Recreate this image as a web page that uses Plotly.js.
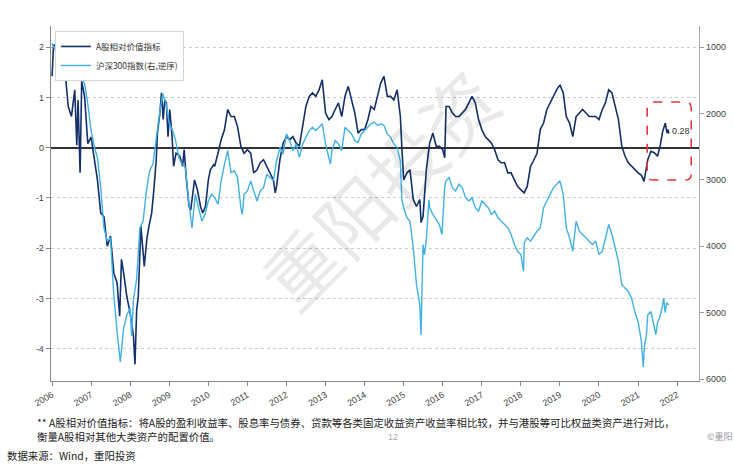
<!DOCTYPE html>
<html>
<head>
<meta charset="utf-8">
<script src="https://cdn.plot.ly/plotly-3.0.1.min.js"></script>
<style>
html,body{margin:0;padding:0;background:#fff;}
#chart{width:734px;height:465px;}
</style>
</head>
<body>
<div id="chart"></div>
<script>
// ---- Data: A股相对价值指标 (left axis) ----
const navyDates = [
'2006-01-01','2006-01-15','2006-02-01','2006-03-01','2006-03-15','2006-04-01','2006-05-01','2006-06-01','2006-07-01','2006-08-01','2006-08-20','2006-09-01','2006-09-20','2006-10-05','2006-11-01','2006-12-01',
'2007-01-01','2007-02-01','2007-03-01','2007-04-01','2007-05-01','2007-06-01','2007-07-01','2007-08-01','2007-09-01','2007-09-25','2007-10-12','2007-11-01','2007-12-01',
'2008-01-01','2008-02-01','2008-02-15','2008-03-02','2008-03-17','2008-04-10','2008-05-12','2008-06-05','2008-06-25','2008-07-20','2008-08-10','2008-09-01','2008-09-12','2008-10-05','2008-10-20','2008-11-05','2008-11-20','2008-12-05','2008-12-20',
'2009-01-05','2009-01-27','2009-02-10','2009-03-05','2009-04-10','2009-05-05','2009-05-20','2009-06-10','2009-07-05','2009-07-20','2009-08-10','2009-08-25','2009-09-20','2009-10-20','2009-11-10','2009-12-05',
'2010-01-01','2010-01-20','2010-02-20','2010-03-01','2010-04-01','2010-05-01','2010-06-01','2010-07-01','2010-08-01','2010-09-01','2010-10-01','2010-11-01','2010-12-01',
'2011-01-01','2011-02-01','2011-03-01','2011-04-01','2011-05-01','2011-06-01','2011-07-01','2011-08-01','2011-09-01','2011-09-18','2011-10-01','2011-11-01','2011-12-01',
'2012-01-01','2012-02-01','2012-03-01','2012-04-01','2012-05-01','2012-06-01','2012-07-01','2012-08-01','2012-09-01','2012-10-01','2012-11-01','2012-12-01',
'2013-01-01','2013-02-01','2013-03-01','2013-04-01','2013-05-01','2013-06-01','2013-07-01','2013-08-01','2013-09-01','2013-10-01','2013-11-01','2013-12-01',
'2014-01-01','2014-02-01','2014-03-01','2014-04-01','2014-05-01','2014-06-01','2014-07-01','2014-08-01','2014-09-01','2014-10-01','2014-11-01','2014-12-01','2014-12-15',
'2015-01-01','2015-02-01','2015-03-01','2015-04-01','2015-05-01','2015-06-01','2015-06-13','2015-07-01','2015-08-01','2015-09-01','2015-10-01','2015-11-01','2015-12-01',
'2016-01-01','2016-01-20','2016-02-01','2016-03-01','2016-04-01','2016-05-01','2016-06-01','2016-07-01','2016-08-01','2016-09-01','2016-10-01','2016-11-01','2016-12-01',
'2017-01-01','2017-02-01','2017-03-01','2017-04-01','2017-05-01','2017-06-01','2017-07-01','2017-08-01','2017-09-01','2017-10-01','2017-11-01','2017-12-01',
'2018-01-01','2018-02-01','2018-03-01','2018-04-01','2018-05-01','2018-06-01','2018-07-01','2018-08-01','2018-09-01','2018-10-01','2018-11-01','2018-12-01',
'2019-01-01','2019-02-01','2019-03-01','2019-04-01','2019-05-01','2019-06-01','2019-07-01','2019-08-01','2019-09-01','2019-10-01','2019-11-01','2019-12-01',
'2020-01-01','2020-02-01','2020-03-01','2020-04-01','2020-05-01','2020-06-01','2020-07-01','2020-08-01','2020-09-01','2020-10-01','2020-11-01','2020-12-01',
'2021-01-01','2021-02-01','2021-02-25','2021-04-01','2021-05-01','2021-06-01','2021-07-01','2021-07-28','2021-08-18','2021-09-12','2021-09-28','2021-10-08','2021-10-15'
];
const navyVals = [
1.42,2.05,2.02,1.75,1.48,1.68,1.55,0.82,0.62,1.15,0.05,0.95,-0.50,1.32,1.02,0.08,
0.21,-0.24,-0.64,-1.30,-1.37,-1.96,-1.76,-2.49,-2.69,-3.35,-2.22,-2.49,-2.96,
-3.29,-3.75,-4.31,-3.22,-2.96,-1.56,-2.36,-1.82,-1.56,-1.30,-0.83,-0.24,0.29,0.69,1.09,0.56,0.95,0.89,0.22,
0.76,0.22,-0.37,-0.11,-0.17,-0.37,-0.04,-0.64,-1.17,-1.24,-0.83,-0.64,-0.83,-1.17,-1.30,-1.17,
-0.64,-0.44,-0.34,-0.37,-0.11,0.16,0.36,0.76,0.62,0.62,0.42,0.03,-0.11,
-0.04,-0.11,-0.50,-0.44,-0.30,-0.24,-0.37,-0.50,-0.64,-0.90,-0.77,-0.24,0.09,
0.22,0.16,0.22,0.09,0.03,0.42,0.82,1.02,1.09,1.02,1.15,1.35,
0.69,0.56,0.62,0.76,0.89,0.62,1.02,1.22,0.95,0.69,0.29,0.36,
0.36,0.56,0.82,0.76,1.02,1.29,1.42,1.02,1.02,0.95,1.15,0.62,0.00,
-0.64,-0.50,-0.44,-1.03,-1.17,-1.03,-1.49,-1.37,-0.44,0.09,0.29,0.03,0.03,
-0.04,-0.20,0.82,0.82,0.69,0.62,0.62,0.69,0.76,0.89,1.02,0.89,0.56,
0.36,0.22,0.16,0.09,-0.04,-0.24,-0.30,-0.30,-0.50,-0.50,-0.64,-0.77,
-0.84,-0.90,-0.77,-0.37,-0.25,-0.11,0.36,0.49,0.76,0.89,1.02,1.15,
1.25,1.09,0.62,0.49,0.22,0.62,0.69,0.76,0.69,0.62,0.62,0.62,
0.56,0.76,0.89,1.15,1.09,0.82,0.56,0.03,-0.17,-0.30,-0.37,-0.44,
-0.50,-0.55,-0.67,-0.24,-0.07,-0.10,-0.17,0.06,0.32,0.49,0.29,0.36,0.28
];

// ---- Data: 沪深300指数 (right axis, reversed) ----
const csiDates = [
'2006-01-01','2006-02-01','2006-03-01','2006-04-01','2006-05-01','2006-06-01','2006-07-01','2006-08-01','2006-09-01','2006-10-01','2006-11-01','2006-12-01',
'2007-01-01','2007-02-01','2007-03-01','2007-04-01','2007-05-01','2007-06-01','2007-07-01','2007-08-01','2007-09-01','2007-10-01','2007-11-01','2007-12-01',
'2008-01-01','2008-01-15','2008-02-01','2008-03-01','2008-04-01','2008-05-01','2008-06-01','2008-07-01','2008-08-01','2008-09-01','2008-10-01','2008-11-01','2008-12-01',
'2009-01-01','2009-02-01','2009-03-01','2009-04-01','2009-05-01','2009-06-01','2009-07-01','2009-08-01','2009-09-01','2009-10-01','2009-11-01','2009-12-01',
'2010-01-01','2010-02-01','2010-03-01','2010-04-01','2010-05-01','2010-06-01','2010-07-01','2010-08-01','2010-09-01','2010-10-01','2010-11-01','2010-11-15','2010-12-01',
'2011-01-01','2011-02-01','2011-03-01','2011-04-01','2011-05-01','2011-06-01','2011-07-01','2011-08-01','2011-09-01','2011-10-01','2011-11-01','2011-12-01',
'2012-01-01','2012-02-01','2012-03-01','2012-04-01','2012-05-01','2012-06-01','2012-07-01','2012-08-01','2012-09-01','2012-10-01','2012-11-01','2012-12-01',
'2013-01-01','2013-02-15','2013-03-01','2013-04-01','2013-05-01','2013-06-01','2013-07-01','2013-08-01','2013-09-01','2013-10-01','2013-11-01','2013-12-01',
'2014-01-01','2014-02-01','2014-03-01','2014-04-01','2014-05-01','2014-06-01','2014-07-01','2014-08-01','2014-09-01','2014-10-01','2014-11-01','2014-12-01','2014-12-15',
'2015-01-01','2015-02-01','2015-03-01','2015-04-01','2015-05-01','2015-06-01','2015-06-12','2015-07-01','2015-07-15','2015-08-01','2015-08-25','2015-09-01','2015-10-01','2015-11-01','2015-12-01','2015-12-25',
'2016-01-20','2016-02-01','2016-03-01','2016-04-01','2016-05-01','2016-06-01','2016-07-01','2016-08-01','2016-09-01','2016-10-01','2016-11-01','2016-12-01',
'2017-01-01','2017-02-01','2017-03-01','2017-04-01','2017-05-01','2017-06-01','2017-07-01','2017-08-01','2017-09-01','2017-10-01','2017-11-01','2017-12-01',
'2018-01-01','2018-01-25','2018-02-01','2018-03-01','2018-04-01','2018-05-01','2018-06-01','2018-07-01','2018-08-01','2018-09-01','2018-10-01','2018-11-01','2018-12-01',
'2019-01-01','2019-02-01','2019-03-01','2019-04-01','2019-04-20','2019-05-01','2019-06-01','2019-07-01','2019-08-01','2019-09-01','2019-10-01','2019-11-01','2019-12-01',
'2020-01-01','2020-02-01','2020-03-01','2020-04-01','2020-05-01','2020-06-01','2020-07-01','2020-08-01','2020-09-01','2020-10-01','2020-11-01','2020-12-01',
'2021-01-01','2021-02-01','2021-02-18','2021-03-01','2021-03-20','2021-04-01','2021-05-01','2021-05-20','2021-06-15','2021-07-01','2021-07-20','2021-08-12','2021-08-28','2021-09-10','2021-09-25','2021-10-15'
];
const csiVals = [
944,1045,1197,1298,1399,1350,1375,1349,1400,1450,1550,1853,
2258,2510,2662,3117,3723,3924,3874,4732,5288,5742,5237,5035,
4934,5350,4800,4500,3723,3622,3167,2864,2763,2359,2005,1702,1853,
2156,2258,2409,2662,2763,2813,3318,3723,3217,3419,3622,3520,
3318,3217,3268,3368,3015,2763,2561,2889,2864,2965,3419,3520,3217,
3167,3015,3167,3318,3167,3117,2914,2965,3015,2712,2510,2611,
2308,2409,2561,2460,2662,2460,2359,2258,2207,2258,2207,2156,
2460,2763,2561,2409,2460,2561,2207,2258,2308,2409,2435,2308,
2258,2207,2156,2130,2180,2156,2180,2308,2359,2460,2510,2712,3300,
3420,3571,3622,4025,4580,4884,5338,3975,4126,3900,3300,3419,3520,3600,3672,3823,
3100,3015,2965,3117,3167,3066,3117,3268,3318,3268,3419,3470,
3318,3368,3419,3520,3470,3571,3622,3672,3723,3823,3975,4075,
4126,4378,3950,3874,3924,3850,3773,3723,3419,3318,3217,3117,3066,
3015,3217,3723,3874,4000,4075,3622,3773,3823,3874,3924,3975,3924,
4126,4075,3874,3672,3823,4025,4227,4580,4631,4682,4783,4985,
5136,5439,5818,5500,5333,5030,4985,5136,5333,5150,5080,4934,4782,5000,4850,4884
];

// ---- Tick labels ----
const yearTicks = ['2006','2007','2008','2009','2010','2011','2012','2013','2014','2015','2016','2017','2018','2019','2020','2021','2022'];
const leftTickVals = [-4,-3,-2,-1,0,1,2];
const leftTickText = ['-4','-3','-2','-1','0','1','2'];
const rightTickVals = [1000,2000,3000,4000,5000,6000];
const rightTickText = ['1000','2000','3000','4000','5000','6000'];

const seriesNames = ['A股相对价值指标','沪深300指数(右,逆序)'];

const tickFont = {family:'"Liberation Sans Narrow","Liberation Sans",Arial,sans-serif', size:9, color:'#444'};
const cjk = '"Noto Sans CJK SC","Noto Sans",sans-serif';

const traces = [
  {x:navyDates, y:navyVals, name:seriesNames[0], type:'scatter', mode:'lines',
   line:{color:'#13306a', width:1.6}, yaxis:'y'},
  {x:csiDates, y:csiVals, name:seriesNames[1], type:'scatter', mode:'lines',
   line:{color:'#3fb1e6', width:1.4}, yaxis:'y2'}
];

// rounded dashed box (paper coords)
const bx0=0.920, bx1=0.988, by0=0.566, by1=0.786, rx=0.0093, ry=0.0169;
const boxPath = `M ${bx0+rx},${by1} L ${bx1-rx},${by1} Q ${bx1},${by1} ${bx1},${by1-ry} L ${bx1},${by0+ry} Q ${bx1},${by0} ${bx1-rx},${by0} L ${bx0+rx},${by0} Q ${bx0},${by0} ${bx0},${by0+ry} L ${bx0},${by1-ry} Q ${bx0},${by1} ${bx0+rx},${by1} Z`;

const lastIdx = navyVals.length-1;

const layout = {
  width:734, height:465,
  margin:{l:51, r:35, t:26, b:84, pad:0},
  paper_bgcolor:'#ffffff', plot_bgcolor:'#ffffff',
  showlegend:true,
  legend:{x:0.006, y:0.986, xanchor:'left', yanchor:'top', bgcolor:'#ffffff',
          bordercolor:'#d6d6d6', borderwidth:1, font:{family:cjk, size:8.5, color:'#333'},
          itemwidth:30, tracegroupgap:0},
  xaxis:{type:'date', range:['2005-12-22','2022-07-24'],
         tickvals:yearTicks.map(y=>y+'-01-01'), ticktext:yearTicks, tickangle:-30,
         ticks:'outside', ticklen:4, tickcolor:'#888', tickfont:tickFont,
         showline:true, linecolor:'#888', linewidth:1.3, showgrid:false, zeroline:false},
  yaxis:{range:[-4.64, 2.42], tickvals:leftTickVals, ticktext:leftTickText,
         ticks:'outside', ticklen:4, tickcolor:'#888', tickfont:tickFont,
         showline:true, linecolor:'#888', linewidth:1.3,
         showgrid:true, gridcolor:'#cccccc', griddash:'dot', gridwidth:1,
         zeroline:true, zerolinecolor:'#333333', zerolinewidth:2},
  yaxis2:{overlaying:'y', side:'right', range:[6030, 682],
          tickvals:rightTickVals, ticktext:rightTickText,
          ticks:'outside', ticklen:4, tickcolor:'#999', tickfont:tickFont,
          showline:true, linecolor:'#aaa', linewidth:1.3, showgrid:false, zeroline:false},
  shapes:[
    {type:'path', xref:'paper', yref:'paper', path:boxPath,
     line:{color:'#e8343c', width:1.6, dash:'dash'}, fillcolor:'rgba(0,0,0,0)'}
  ],
  annotations:[
    {x:navyDates[lastIdx], y:navyVals[lastIdx], xref:'x', yref:'y', text:navyVals[lastIdx].toFixed(2),
     showarrow:false, xanchor:'left', yanchor:'middle', xshift:1, yshift:3,
     font:{family:tickFont.family, size:9, color:'#333'}},
    {x:0.505, y:0.545, xref:'paper', yref:'paper', text:'重阳投资', showarrow:false,
     textangle:-45, font:{family:cjk, size:74, color:'rgba(0,0,0,0.085)'}},
    {x:-0.0247, y:-0.1155, xref:'paper', yref:'paper', xanchor:'left', yanchor:'middle', showarrow:false,
     text:'** A股相对价值指标：将A股的盈利收益率、股息率与债券、贷款等各类固定收益资产收益率相比较，并与港股等可比权益类资产进行对比，',
     font:{family:cjk, size:10.4, color:'#222'}},
    {x:-0.0247, y:-0.1577, xref:'paper', yref:'paper', xanchor:'left', yanchor:'middle', showarrow:false,
     text:'衡量A股相对其他大类资产的配置价值。', font:{family:cjk, size:10.4, color:'#222'}},
    {x:-0.071, y:-0.2085, xref:'paper', yref:'paper', xanchor:'left', yanchor:'middle', showarrow:false,
     text:'数据来源：Wind，重阳投资', font:{family:cjk, size:10.4, color:'#222'}},
    {x:0.528, y:-0.1577, xref:'paper', yref:'paper', xanchor:'center', yanchor:'middle', showarrow:false,
     text:'12', font:{family:tickFont.family, size:9, color:'#aaa'}},
    {x:1.055, y:-0.1577, xref:'paper', yref:'paper', xanchor:'right', yanchor:'middle', showarrow:false,
     text:'©重阳', font:{family:cjk, size:9, color:'#999'}}
  ]
};

Plotly.newPlot('chart', traces, layout, {displayModeBar:false, staticPlot:true});
</script>
</body>
</html>
